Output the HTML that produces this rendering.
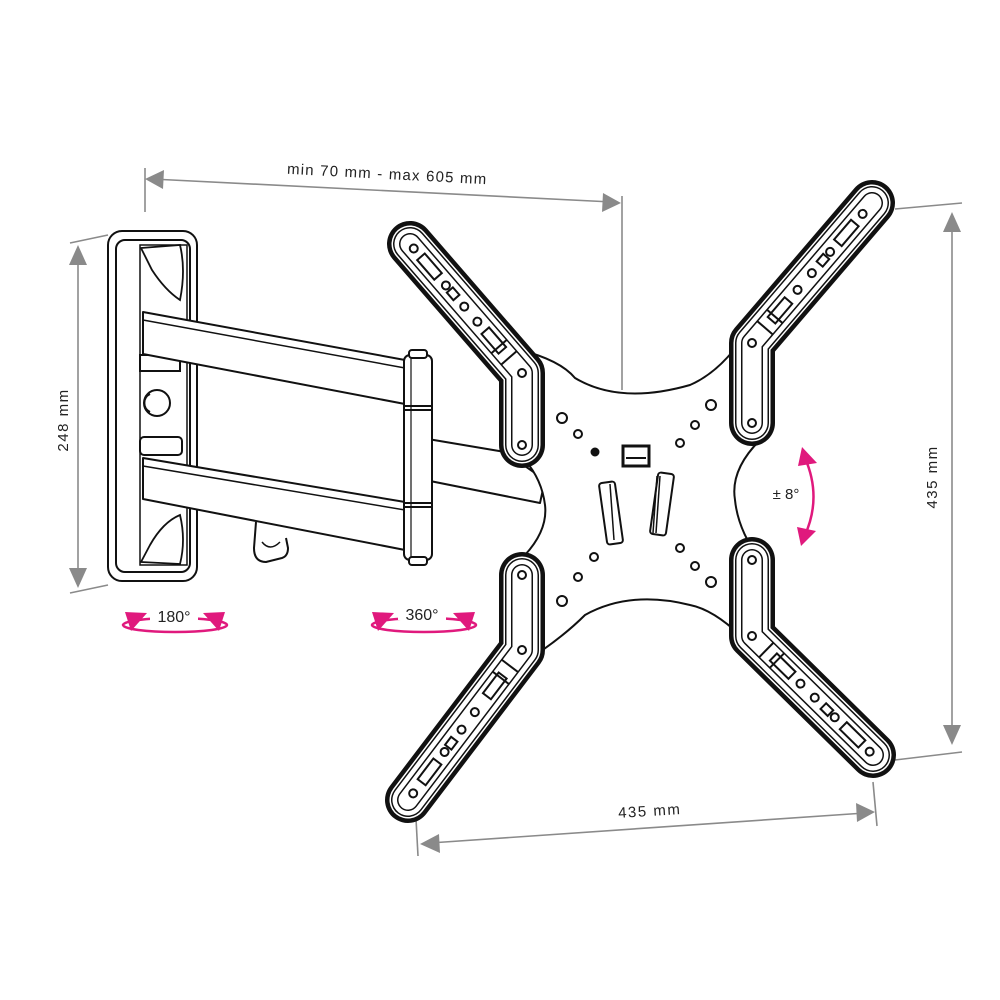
<!DOCTYPE html>
<html><head><meta charset="utf-8"><style>
html,body{margin:0;padding:0;background:#fff;width:1000px;height:1000px;overflow:hidden}
svg{display:block}
text{font-family:"Liberation Sans",sans-serif;fill:#222}
</style></head><body>
<svg width="1000" height="1000" viewBox="0 0 1000 1000" xmlns="http://www.w3.org/2000/svg">

<!-- dimension lines -->
<g stroke="#8a8a8a" stroke-width="1.6" fill="none">
  <line x1="145" y1="168" x2="145" y2="212"/>
  <line x1="622" y1="196" x2="622" y2="390"/>
  <line x1="152" y1="179" x2="612" y2="202"/>
  <line x1="70" y1="243" x2="108" y2="235"/>
  <line x1="70" y1="593" x2="108" y2="585"/>
  <line x1="78" y1="255" x2="78" y2="578"/>
  <line x1="895" y1="209" x2="962" y2="203"/>
  <line x1="895" y1="760" x2="962" y2="752"/>
  <line x1="952" y1="222" x2="952" y2="735"/>
  <line x1="415" y1="800" x2="418" y2="856"/>
  <line x1="873" y1="782" x2="877" y2="826"/>
  <line x1="430" y1="843" x2="865" y2="813"/>
</g>
<g fill="#8a8a8a">
  <polygon points="145,179 164,170 163,189"/>
  <polygon points="621,203 603,193 602,212"/>
  <polygon points="78,245 69,265 87,265"/>
  <polygon points="78,588 69,568 87,568"/>
  <polygon points="952,212 943,232 961,232"/>
  <polygon points="952,745 943,725 961,725"/>
  <polygon points="420,844 439,834 440,853"/>
  <polygon points="875,812 856,803 857,822"/>
</g>
<text x="387" y="179" font-size="15" letter-spacing="1.2" text-anchor="middle" transform="rotate(3 387 179)">min 70 mm - max 605 mm</text>
<text x="68" y="420" font-size="15" letter-spacing="1.5" text-anchor="middle" transform="rotate(-90 68 420)">248 mm</text>
<text x="937" y="477" font-size="15" letter-spacing="1.5" text-anchor="middle" transform="rotate(-90 937 477)">435 mm</text>
<text x="650" y="816" font-size="15" letter-spacing="1.5" text-anchor="middle" transform="rotate(-3.5 650 816)">435 mm</text>

<!-- wall plate -->
<g stroke="#111" stroke-width="2" fill="#fff">
  <rect x="108" y="231" width="89" height="350" rx="14"/>
  <rect x="116" y="240" width="74" height="332" rx="9"/>
  <rect x="140" y="245" width="47" height="320" stroke-width="1.5"/>
  <path d="M141 248 L180 245 Q186 270 180 300 Q165 290 152 270 Z" stroke-width="1.8"/>
  <path d="M141 562 L180 564 Q186 540 180 515 Q163 522 150 545 Z" stroke-width="1.8"/>
  <circle cx="157" cy="403" r="13"/>
  <path d="M150 394 a10 10 0 0 0 0 18" fill="none"/>
  <rect x="140" y="355" width="40" height="16"/>
  <rect x="140" y="437" width="42" height="18" rx="4"/>
</g>
<!-- long arms -->
<g stroke="#111" stroke-width="2" fill="#fff" stroke-linejoin="round">
  <polygon points="143,312 405,360 405,404 143,354"/>
  <line x1="143" y1="320" x2="405" y2="368" stroke-width="1.5"/>
  <path d="M256 522 L254 548 Q254 562 266 562 L282 558 Q288 556 288 548 L286 538" fill="#fff" stroke-width="2"/>
  <path d="M262 542 Q270 552 280 542" fill="none" stroke-width="1.5"/>
  <polygon points="143,458 405,502 405,550 143,499"/>
  <line x1="143" y1="466" x2="405" y2="510" stroke-width="1.5"/>
  <!-- short arm -->
  <polygon points="410,436 505,452 545,480 540,503 410,477"/>
  <line x1="410" y1="436" x2="418" y2="443"/>
  <!-- hinge -->
  <rect x="404" y="355" width="28" height="205" rx="6"/>
  <rect x="409" y="350" width="18" height="8" rx="3"/>
  <rect x="409" y="557" width="18" height="8" rx="3"/>
  <line x1="404" y1="406" x2="432" y2="406"/>
  <line x1="404" y1="410" x2="432" y2="410"/>
  <line x1="404" y1="503" x2="432" y2="503"/>
  <line x1="404" y1="507" x2="432" y2="507"/>
  <line x1="411" y1="358" x2="411" y2="557" stroke-width="1.2"/>
</g>

<!-- central plate -->
<path d="M520 350 Q560 360 575 378 Q620 405 690 385 Q720 372 745 335
 L760 440 Q730 470 735 500 Q738 530 760 560
 L745 640 Q715 610 690 605 Q630 590 585 615 Q560 640 520 665
 L525 555 Q548 530 545 505 Q542 480 525 460 Z" fill="#fff" stroke="#111" stroke-width="2"/>

<!-- tilt arms -->
<g fill="none" stroke-linecap="round" stroke-linejoin="round">
  <path d="M410 244 L522 373 L522 445" stroke="#111" stroke-width="46"/>
  <path d="M410 244 L522 373 L522 445" stroke="#fff" stroke-width="37"/>
  <path d="M410 244 L522 373 L522 445" stroke="#111" stroke-width="34"/>
  <path d="M410 244 L522 373 L522 445" stroke="#fff" stroke-width="31"/>
  <path d="M410 244 L522 373 L522 445" stroke="#111" stroke-width="22"/>
  <path d="M410 244 L522 373 L522 445" stroke="#fff" stroke-width="19"/>

  <path d="M872 203 L752 343 L752 423" stroke="#111" stroke-width="46"/>
  <path d="M872 203 L752 343 L752 423" stroke="#fff" stroke-width="37"/>
  <path d="M872 203 L752 343 L752 423" stroke="#111" stroke-width="34"/>
  <path d="M872 203 L752 343 L752 423" stroke="#fff" stroke-width="31"/>
  <path d="M872 203 L752 343 L752 423" stroke="#111" stroke-width="22"/>
  <path d="M872 203 L752 343 L752 423" stroke="#fff" stroke-width="19"/>

  <path d="M408 800 L522 650 L522 575" stroke="#111" stroke-width="46"/>
  <path d="M408 800 L522 650 L522 575" stroke="#fff" stroke-width="37"/>
  <path d="M408 800 L522 650 L522 575" stroke="#111" stroke-width="34"/>
  <path d="M408 800 L522 650 L522 575" stroke="#fff" stroke-width="31"/>
  <path d="M408 800 L522 650 L522 575" stroke="#111" stroke-width="22"/>
  <path d="M408 800 L522 650 L522 575" stroke="#fff" stroke-width="19"/>

  <path d="M873 755 L752 636 L752 560" stroke="#111" stroke-width="46"/>
  <path d="M873 755 L752 636 L752 560" stroke="#fff" stroke-width="37"/>
  <path d="M873 755 L752 636 L752 560" stroke="#111" stroke-width="34"/>
  <path d="M873 755 L752 636 L752 560" stroke="#fff" stroke-width="31"/>
  <path d="M873 755 L752 636 L752 560" stroke="#111" stroke-width="22"/>
  <path d="M873 755 L752 636 L752 560" stroke="#fff" stroke-width="19"/>
</g>

<!-- arm details -->
<g fill="#fff" stroke="#111" stroke-width="2">
  <g transform="translate(522 373) rotate(-131)">
    <circle cx="165" cy="0" r="4"/>
    <rect x="128" y="-5" width="26" height="10"/>
    <circle cx="116" cy="0" r="4"/>
    <rect x="100" y="-4" width="10" height="8"/>
    <circle cx="88" cy="0" r="4"/>
    <circle cx="68" cy="0" r="4"/>
    <rect x="30" y="-5" width="26" height="10"/>
    <line x1="20" y1="-10" x2="20" y2="10"/><line x1="35" y1="-10" x2="35" y2="10"/>
  </g>
  <circle cx="522" cy="373" r="4"/><circle cx="522" cy="445" r="4"/>
  <g transform="translate(752 343) rotate(-49.4)">
    <circle cx="170" cy="0" r="4"/>
    <rect x="132" y="-5" width="26" height="10"/>
    <circle cx="120" cy="0" r="4"/>
    <rect x="104" y="-4" width="10" height="8"/>
    <circle cx="92" cy="0" r="4"/>
    <circle cx="70" cy="0" r="4"/>
    <rect x="30" y="-5" width="26" height="10"/>
    <line x1="20" y1="-10" x2="20" y2="10"/><line x1="35" y1="-10" x2="35" y2="10"/>
  </g>
  <circle cx="752" cy="343" r="4"/><circle cx="752" cy="423" r="4"/>
  <g transform="translate(522 650) rotate(127.2)">
    <circle cx="180" cy="0" r="4"/>
    <rect x="140" y="-5" width="26" height="10"/>
    <circle cx="128" cy="0" r="4"/>
    <rect x="112" y="-4" width="10" height="8"/>
    <circle cx="100" cy="0" r="4"/>
    <circle cx="78" cy="0" r="4"/>
    <rect x="32" y="-5" width="26" height="10"/>
    <line x1="20" y1="-10" x2="20" y2="10"/><line x1="35" y1="-10" x2="35" y2="10"/>
  </g>
  <circle cx="522" cy="650" r="4"/><circle cx="522" cy="575" r="4"/>
  <g transform="translate(752 636) rotate(44.5)">
    <circle cx="165" cy="0" r="4"/>
    <rect x="128" y="-5" width="26" height="10"/>
    <circle cx="116" cy="0" r="4"/>
    <rect x="100" y="-4" width="10" height="8"/>
    <circle cx="88" cy="0" r="4"/>
    <circle cx="68" cy="0" r="4"/>
    <rect x="30" y="-5" width="26" height="10"/>
    <line x1="20" y1="-10" x2="20" y2="10"/><line x1="35" y1="-10" x2="35" y2="10"/>
  </g>
  <circle cx="752" cy="636" r="4"/><circle cx="752" cy="560" r="4"/>
</g>

<!-- plate holes -->
<g fill="#fff" stroke="#111" stroke-width="2">
  <circle cx="562" cy="418" r="5"/><circle cx="578" cy="434" r="4"/><circle cx="595" cy="452" r="3.5" fill="#111"/>
  <circle cx="562" cy="601" r="5"/><circle cx="578" cy="577" r="4"/><circle cx="594" cy="557" r="4"/>
  <circle cx="711" cy="405" r="5"/><circle cx="695" cy="425" r="4"/><circle cx="680" cy="443" r="4"/>
  <circle cx="711" cy="582" r="5"/><circle cx="695" cy="566" r="4"/><circle cx="680" cy="548" r="4"/>
  <rect x="623" y="446" width="26" height="20" stroke-width="3"/>
  <line x1="626" y1="458" x2="646" y2="458"/>
  <rect x="603" y="482" width="16" height="62" rx="3" transform="rotate(-8 611 513)"/>
  <line x1="610" y1="484" x2="614" y2="540" stroke-width="1.5"/>
  <rect x="654" y="473" width="16" height="62" rx="3" transform="rotate(8 662 504)"/>
  <line x1="657" y1="476" x2="653" y2="533" stroke-width="1.5"/>
  <line x1="660" y1="476" x2="656" y2="533" stroke-width="1.5"/>
</g>

<!-- pink rotation indicators -->
<g fill="none" stroke="#e0197d" stroke-width="2.5">
  <ellipse cx="175" cy="625" rx="52" ry="7"/>
  <ellipse cx="424" cy="625" rx="52" ry="7"/>
  <path d="M805 458 Q822 497 805 535"/>
</g>
<rect x="150" y="604" width="48" height="18" fill="#fff"/>
<rect x="398" y="602" width="48" height="18" fill="#fff"/>
<g fill="#e0197d">
  <polygon points="125,612 147,613 131,631"/>
  <polygon points="225,612 203,613 219,631"/>
  <polygon points="372,612 394,613 378,631"/>
  <polygon points="475,612 453,613 469,631"/>
  <polygon points="802,447 817,463 798,466"/>
  <polygon points="801,546 816,531 797,527"/>
</g>
<text x="174" y="622" font-size="16" text-anchor="middle">180°</text>
<text x="422" y="620" font-size="16" text-anchor="middle">360°</text>
<text x="786" y="499" font-size="15" text-anchor="middle">± 8°</text>
</svg>
</body></html>
